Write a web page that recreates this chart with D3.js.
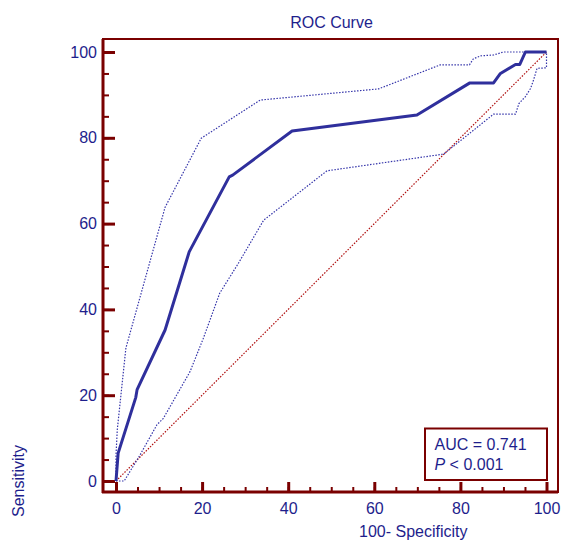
<!DOCTYPE html>
<html>
<head>
<meta charset="utf-8">
<script src="https://cdn.jsdelivr.net/npm/d3@7"></script>
<style>
  body { margin: 0; background: #fff; }
  svg text { font-family: "Liberation Sans", Arial, sans-serif; }
</style>
</head>
<body>
<svg id="chart" width="562" height="543"></svg>
<script>
// ---- data (100-Specificity, Sensitivity) ----
const rocX = [0, 0.5, 4.6, 4.9, 11.4, 17.0, 26.3, 27.1, 40.9, 69.9, 82.2, 87.7, 89.3, 92.8, 93.8, 95.1, 100];
const rocY = [0, 6.5, 19.5, 21.3, 35.2, 53.4, 70.9, 71.3, 81.6, 85.3, 92.8, 92.8, 95.0, 97.1, 97.1, 100, 100];

const upperX = [0, 0, 0.3, 2.3, 11.4, 19.8, 33.5, 61.0, 75.3, 82.1, 83.0, 84.7, 87.7, 90.0, 100];
const upperY = [0, 6, 12, 31, 63.8, 79.9, 88.8, 91.4, 97.0, 97.0, 98.4, 99.1, 99.3, 100, 100];

const lowerX = [0, 1.9, 5.6, 9.5, 11.0, 17.2, 20.3, 24.1, 28.4, 34.3, 49.0, 76.1, 87.7, 92.8, 93.6, 95.1, 96.3, 97.0, 97.8, 100, 100];
const lowerY = [0, 0, 6.1, 13.1, 14.6, 25.5, 33.3, 43.8, 50.7, 60.8, 72.3, 76.2, 85.5, 85.5, 88.0, 89.6, 91.5, 93.5, 96.2, 96.3, 100];

const refX = [0, 100];
const refY = [0, 100];

const majorTicks = [0, 20, 40, 60, 80, 100];
const minorTicks = [0, 5, 10, 15, 20, 25, 30, 35, 40, 45, 50, 55, 60, 65, 70, 75, 80, 85, 90, 95, 100];

const titleText = "ROC Curve";
const xTitle = "100- Specificity";
const yTitle = "Sensitivity";
const aucText = "AUC = 0.741";
const pLabel = "P";
const pText = " < 0.001";

// ---- styles ----
const frameColor = "#7a0000";
const textColor = "#1e1e8c";
const curveColor = "#2f2f9c";
const ciColor = "#3535aa";
const refColor = "#b01010";

const svg = d3.select("#chart");

const x = d3.scaleLinear().domain([0, 100]).range([116, 546.5]);
const y = d3.scaleLinear().domain([0, 100]).range([481, 52]);

const frame = { left: 103, right: 558, top: 39, bottom: 492 };

// title
svg.append("text")
  .attr("x", 331.5).attr("y", 28)
  .attr("text-anchor", "middle")
  .attr("font-size", 16)
  .attr("fill", textColor)
  .text(titleText);

// frame
svg.append("rect")
  .attr("x", frame.left).attr("y", frame.top)
  .attr("width", frame.right - frame.left)
  .attr("height", frame.bottom - frame.top)
  .attr("fill", "none")
  .attr("stroke", frameColor)
  .attr("stroke-width", 2);
svg.append("line")
  .attr("x1", frame.left).attr("x2", frame.left)
  .attr("y1", frame.top).attr("y2", frame.bottom + 1)
  .attr("stroke", frameColor).attr("stroke-width", 3);
svg.append("line")
  .attr("x1", frame.left - 1).attr("x2", frame.right)
  .attr("y1", frame.bottom).attr("y2", frame.bottom)
  .attr("stroke", frameColor).attr("stroke-width", 3);

// axes
function styleAxis(g, w) {
  g.select(".domain").remove();
  g.selectAll(".tick line").attr("stroke", frameColor).attr("stroke-width", w);
  g.selectAll(".tick text").attr("fill", textColor).attr("font-size", 16)
    .attr("font-family", '"Liberation Sans", Arial, sans-serif');
}

const xMinor = svg.append("g").attr("transform", `translate(0,${frame.bottom})`)
  .call(d3.axisBottom(x).tickValues(minorTicks).tickSizeInner(-5).tickSizeOuter(0).tickFormat(""));
styleAxis(xMinor, 2);
const xMajor = svg.append("g").attr("transform", `translate(0,${frame.bottom})`)
  .call(d3.axisBottom(x).tickValues(majorTicks).tickSizeInner(-10).tickSizeOuter(0).tickPadding(10.5));
styleAxis(xMajor, 3);

const yMinor = svg.append("g").attr("transform", `translate(${frame.left},0)`)
  .call(d3.axisLeft(y).tickValues(minorTicks).tickSizeInner(-6).tickSizeOuter(0).tickFormat(""));
styleAxis(yMinor, 2);
const yMajor = svg.append("g").attr("transform", `translate(${frame.left},0)`)
  .call(d3.axisLeft(y).tickValues(majorTicks).tickSizeInner(-12).tickSizeOuter(0).tickPadding(6));
styleAxis(yMajor, 3);

// axis titles
svg.append("text")
  .attr("x", 467.5).attr("y", 537)
  .attr("text-anchor", "end")
  .attr("font-size", 16).attr("fill", textColor)
  .text(xTitle);
svg.append("text")
  .attr("transform", "translate(23.5,517) rotate(-90)")
  .attr("text-anchor", "start")
  .attr("font-size", 16).attr("fill", textColor)
  .text(yTitle);

// lines
const line = d3.line().x(d => x(d[0])).y(d => y(d[1]));
const zip = (a, b) => a.map((v, i) => [v, b[i]]);

svg.append("path").datum(zip(refX, refY))
  .attr("d", line).attr("fill", "none")
  .attr("stroke", refColor).attr("stroke-width", 1.2)
  .attr("stroke-dasharray", "1.5,1.5");

svg.append("path").datum(zip(upperX, upperY))
  .attr("d", line).attr("fill", "none")
  .attr("stroke", ciColor).attr("stroke-width", 1.2)
  .attr("stroke-dasharray", "1.5,1.5");
svg.append("path").datum(zip(lowerX, lowerY))
  .attr("d", line).attr("fill", "none")
  .attr("stroke", ciColor).attr("stroke-width", 1.2)
  .attr("stroke-dasharray", "1.5,1.5");

svg.append("path").datum(zip(rocX, rocY))
  .attr("d", line).attr("fill", "none")
  .attr("stroke", curveColor).attr("stroke-width", 3)
  .attr("stroke-linejoin", "round");

// legend box
svg.append("rect")
  .attr("x", 425).attr("y", 428.5)
  .attr("width", 122).attr("height", 51.5)
  .attr("fill", "#fff")
  .attr("stroke", frameColor).attr("stroke-width", 2);
svg.append("text")
  .attr("x", 434.5).attr("y", 449.5)
  .attr("font-size", 16).attr("fill", textColor)
  .text(aucText);
const pt = svg.append("text")
  .attr("x", 434.5).attr("y", 469.5)
  .attr("font-size", 16).attr("fill", textColor);
pt.append("tspan").attr("font-style", "italic").text(pLabel);
pt.append("tspan").text(pText);
</script>
</body>
</html>
